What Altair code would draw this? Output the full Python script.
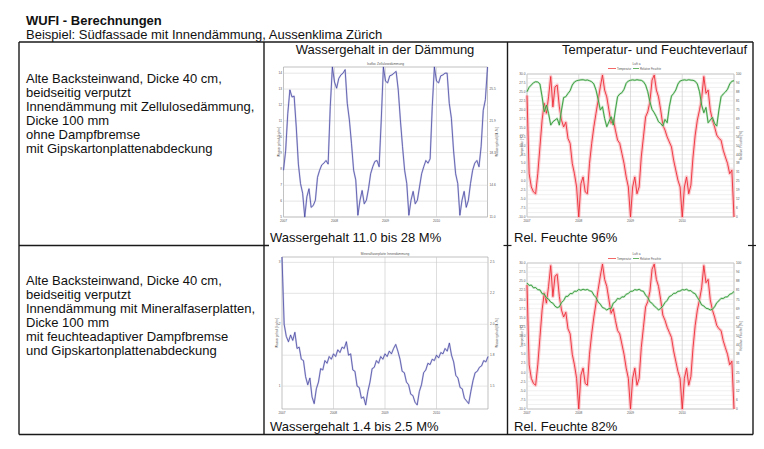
import altair as alt
import pandas as pd

# ---------------- data ----------------
title = "WUFI - Berechnungen"
subtitle = "Beispiel: Südfassade mit Innendämmung, Aussenklima Zürich"
col_heads = ["Wassergehalt in der Dämmung", "Temperatur- und Feuchteverlauf"]
desc_1 = ["Alte Backsteinwand, Dicke 40 cm,", "beidseitig verputzt",
          "Innendämmung mit Zellulosedämmung,", "Dicke 100 mm",
          "ohne Dampfbremse", "mit Gipskartonplattenabdeckung"]
desc_2 = ["Alte Backsteinwand, Dicke 40 cm,", "beidseitig verputzt",
          "Innendämmung mit Mineralfaserplatten,", "Dicke 100 mm",
          "mit feuchteadaptiver Dampfbremse", "und Gipskartonplattenabdeckung"]
captions = ["Wassergehalt 11.0 bis 28 M%", "Rel. Feuchte 96%",
            "Wassergehalt 1.4 bis 2.5 M%", "Rel. Feuchte 82%"]
mini_titles = ["Isofloc Zellulosedämmung", "Mineralfaserplatte Innendämmung", "Luft a"]
legend_items = ["Temperatur", "Relative Feuchte"]
years = ["2007", "2008", "2009", "2010"]
year_months = [0, 12, 24, 36]

# water content, cellulose insulation [M.-%], half-month steps over 4 years
water_cellulose = [16.3, 18.5, 22.7, 25.4, 24.6, 24.7, 21.2, 17.0, 14.8, 13.7,
                   11.0, 13.3, 14.2, 12.1, 12.3, 12.9, 15.5, 16.3, 16.9, 17.1,
                   17.4, 17.0, 23.5, 28.0, 26.3, 25.6, 26.7, 27.1, 27.3, 27.7,
                   23.9, 22.0, 19.3, 16.3, 15.2, 11.2, 12.9, 14.0, 12.5, 12.9,
                   14.2, 15.9, 16.7, 17.3, 17.4, 16.7, 22.0, 28.0, 26.4, 26.2,
                   27.0, 27.1, 27.3, 27.5, 25.4, 22.0, 19.0, 16.3, 14.8, 11.2,
                   12.9, 13.9, 12.5, 12.9, 14.4, 15.9, 16.7, 17.4, 17.1, 17.6,
                   23.5, 28.0, 26.4, 26.2, 27.0, 27.1, 27.3, 27.3, 23.9, 22.2,
                   18.6, 15.9, 14.8, 11.2, 12.9, 13.9, 12.1, 12.9, 14.8, 16.3,
                   17.1, 17.4, 16.7, 19.0, 23.1, 24.3, 28.0]

# water content, mineral fibre board [M.-%]
water_mineral = [2.50, 2.00, 1.91, 1.87, 1.92, 1.88, 1.94, 1.82, 1.83, 1.74,
                 1.73, 1.61, 1.55, 1.60, 1.46, 1.41, 1.52, 1.57, 1.67, 1.66,
                 1.73, 1.71, 1.76, 1.74, 1.78, 1.76, 1.81, 1.79, 1.83, 1.82,
                 1.87, 1.77, 1.78, 1.66, 1.65, 1.54, 1.53, 1.45, 1.46, 1.40,
                 1.50, 1.57, 1.67, 1.68, 1.73, 1.71, 1.76, 1.74, 1.78, 1.76,
                 1.80, 1.78, 1.82, 1.85, 1.80, 1.74, 1.65, 1.64, 1.57, 1.55,
                 1.48, 1.47, 1.42, 1.40, 1.50, 1.55, 1.64, 1.66, 1.71, 1.70,
                 1.74, 1.73, 1.77, 1.75, 1.79, 1.78, 1.82, 1.80, 1.86, 1.77,
                 1.72, 1.62, 1.60, 1.53, 1.52, 1.45, 1.43, 1.41, 1.50, 1.58,
                 1.64, 1.65, 1.68, 1.69, 1.73, 1.72, 1.76]

# temperature [°C]
temperature = [24.0, 2.1, -1.6, -3.0, -3.5, 2.1, 9.6, 17.1, 21.8, 19.0,
               23.6, 29.3, 20.8, 26.4, 26.9, 20.8, 17.1, 15.2, 16.5, 12.0,
               10.6, 5.0, 2.1, -1.6, -10.0, -0.7, 1.2, -3.0, -3.5, 5.0,
               10.6, 15.2, 19.0, 22.7, 26.4, 29.7, 25.5, 23.6, 19.9, 16.2,
               17.5, 14.3, 11.5, 10.6, 7.8, 5.0, 1.2, -1.6, -10.0, -1.6,
               1.2, -3.5, -1.6, 6.8, 12.4, 18.0, 19.4, 22.2, 28.3, 29.7,
               25.5, 23.6, 19.9, 15.7, 14.3, 12.4, 11.0, 9.6, 5.9, 3.1,
               0.3, -1.6, -10.0, -1.6, 1.2, -3.5, -1.1, 6.8, 12.9, 17.1,
               19.9, 23.2, 29.3, 24.6, 25.5, 19.9, 17.1, 15.2, 12.9, 12.0,
               11.5, 8.7, 6.8, 5.0, 2.1, 3.1, -10.0]

# relative humidity, case 1 [%]
rh_case1 = [87.6, 90.7, 92.3, 93.9, 94.6, 94.4, 93.0, 84.1, 73.6, 78.3,
            72.4, 64.3, 66.6, 67.8, 68.9, 64.3, 74.8, 83.6, 84.1, 86.4,
            88.3, 92.3, 94.4, 95.3, 95.6, 95.9, 96.0, 95.6, 95.8, 95.3,
            94.6, 93.0, 88.8, 82.2, 74.8, 77.1, 68.9, 63.1, 66.6, 70.1,
            64.3, 74.8, 84.1, 86.0, 86.9, 89.3, 93.5, 95.1, 95.6, 95.9,
            95.6, 96.0, 95.7, 95.6, 94.6, 92.3, 87.6, 80.6, 75.2, 72.9,
            70.1, 66.6, 65.4, 63.6, 68.2, 65.9, 77.1, 84.6, 86.4, 88.8,
            93.0, 95.1, 95.6, 95.9, 95.6, 96.0, 95.7, 95.6, 94.9, 93.0,
            87.6, 78.3, 72.9, 76.6, 65.9, 67.8, 69.6, 65.4, 63.6, 74.8,
            84.1, 86.0, 87.4, 89.3, 93.0, 94.9, 95.3]

# relative humidity, case 2 [%]
rh_case2 = [86.3, 84.6, 84.9, 83.0, 83.2, 81.7, 81.6, 79.0, 78.7, 76.2,
            75.2, 73.2, 72.5, 70.4, 69.4, 70.0, 72.9, 74.3, 77.1, 77.2,
            79.1, 79.0, 80.7, 80.6, 81.9, 81.3, 82.0, 81.5, 81.9, 81.0,
            80.6, 78.0, 76.4, 73.3, 71.8, 69.5, 68.9, 67.8, 68.8, 68.7,
            72.5, 73.5, 75.7, 75.3, 76.8, 76.7, 78.6, 79.1, 80.6, 80.7,
            81.8, 81.4, 82.0, 81.0, 80.6, 78.0, 76.4, 73.4, 72.4, 70.5,
            69.4, 67.8, 68.9, 70.5, 72.9, 74.4, 77.0, 77.7, 79.2, 79.3,
            80.6, 80.8, 81.8, 81.5, 82.0, 81.0, 81.1, 79.6, 79.0, 76.4,
            74.2, 71.3, 70.6, 69.0, 68.7, 67.8, 68.3, 70.0, 72.8, 74.1,
            75.8, 75.7, 76.7, 76.8, 78.6, 79.1, 80.5]

# axis ticks of the small charts
cell_grid = [11.0, 12.8, 14.6, 16.4, 18.3, 20.1, 21.9, 23.7, 25.5, 27.3]
cell_left_labels = ["5", "6", "7", "8", "9", "10", "11", "12", "13", "14"]
cell_right_labels = ["11.0", "", "14.6", "", "18.3", "", "21.9", "", "25.5", ""]
min_grid = [1.54, 1.77, 2.00, 2.23, 2.46]
min_left_labels = ["1", "", "2", "", "3"]
min_right_labels = ["1.5", "1.8", "2.0", "2.2", "2.5"]
temp_grid = [-10 + 1.25 * k for k in range(33)]
temp_labels = [str(round(v, 1)) if k % 2 == 0 else "" for k, v in enumerate(temp_grid)]
rh_labels = [str(round((v + 10) * 2.5)) if k % 2 == 0 else "" for k, v in enumerate(temp_grid)]

# ---------------- helpers ----------------
FONT = "Liberation Sans"
INK = "#111111"
dummy = pd.DataFrame({"d": [0]})
layers = []


def S(dom, rng):
    return alt.Scale(domain=dom, range=rng, nice=False, zero=False)


def txt(x, y, s, size=13, weight="normal", align="left", color=INK, angle=None):
    kw = dict(text=s, fontSize=size, fontWeight=weight, align=align,
              baseline="middle", font=FONT, color=color)
    if angle is not None:
        kw["angle"] = angle
    return alt.Chart(dummy).mark_text(**kw).encode(x=alt.value(x), y=alt.value(y))


def hline(x0, x1, y, w=1.4, color="#1a1a1a"):
    return alt.Chart(dummy).mark_rule(strokeWidth=w, color=color).encode(
        x=alt.value(x0), x2=alt.value(x1), y=alt.value(y))


def vline(x, y0, y1, w=1.4, color="#1a1a1a"):
    return alt.Chart(dummy).mark_rule(strokeWidth=w, color=color).encode(
        x=alt.value(x), y=alt.value(y0), y2=alt.value(y1))


def frame(x0, x1, yt, yb):
    return alt.Chart(dummy).mark_rect(fill="#ffffff", stroke="#a8a8a8", strokeWidth=0.7).encode(
        x=alt.value(x0), x2=alt.value(x1), y=alt.value(yt), y2=alt.value(yb))


def hgrid(vals, sy, x0, x1, color="#d4d4d4", w=0.6):
    return alt.Chart(pd.DataFrame({"v": vals})).mark_rule(color=color, strokeWidth=w).encode(
        y=alt.Y("v:Q", scale=sy, axis=None), x=alt.value(x0), x2=alt.value(x1))


def vgrid(vals, sx, yt, yb):
    return alt.Chart(pd.DataFrame({"t": vals})).mark_rule(color="#c8c8c8", strokeWidth=0.6).encode(
        x=alt.X("t:Q", scale=sx, axis=None), y=alt.value(yt), y2=alt.value(yb))


def ylabels(vals, labs, sy, x, align):
    return alt.Chart(pd.DataFrame({"v": vals, "l": labs})).mark_text(
        fontSize=3.2, font=FONT, color="#555555", align=align, baseline="middle").encode(
        y=alt.Y("v:Q", scale=sy, axis=None), x=alt.value(x), text="l:N")


def xlabels(sx, y):
    return alt.Chart(pd.DataFrame({"t": year_months, "l": years})).mark_text(
        fontSize=3.2, font=FONT, color="#555555", align="center", baseline="middle").encode(
        x=alt.X("t:Q", scale=sx, axis=None), y=alt.value(y), text="l:N")


def series(vals, sx, sy, color, w, op=1.0):
    n = len(vals)
    df = pd.DataFrame({"t": [48 * i / (n - 1) for i in range(n)], "v": vals})
    return alt.Chart(df).mark_line(color=color, strokeWidth=w, opacity=op, strokeJoin="round").encode(
        x=alt.X("t:Q", scale=sx, axis=None), y=alt.Y("v:Q", scale=sy, axis=None))


# ---------------- page text and table ----------------
layers += [
    txt(18, 13, title, weight="bold"),
    txt(18, 27, subtitle),
    txt(377, 42, col_heads[0], align="center"),
    txt(739, 42, col_heads[1], align="right"),
]
for k, line in enumerate(desc_1):
    layers.append(txt(18, 71 + 14 * k, line))
for k, line in enumerate(desc_2):
    layers.append(txt(18, 273 + 14 * k, line))
layers += [
    txt(262, 230, captions[0]), txt(506, 230, captions[1]),
    txt(262, 419, captions[2]), txt(506, 419, captions[3]),
]
layers += [
    hline(11, 745, 34), hline(11, 745, 426.5), hline(11, 261, 237.5),
    hline(495.5, 503.5, 237.5, w=1.2), hline(740, 749, 237.5, w=1.2),
    vline(11, 34, 426.5), vline(745, 34, 426.5),
    vline(256, 34, 426.5), vline(499.5, 34, 426.5),
]


# ---------------- small water-content charts ----------------
def water_panel(x0, x1, yt, yb, dom, vals, grid, llab, rlab, ttl, ty):
    sx = S([0, 48], [x0, x1])
    sy = S(dom, [yb, yt])
    return [
        frame(x0, x1, yt, yb),
        hgrid(grid, sy, x0, x1),
        vgrid([12, 24, 36], sx, yt, yb),
        ylabels(grid, llab, sy, x0 - 1.5, "right"),
        ylabels(grid, rlab, sy, x1 + 2, "left"),
        xlabels(sx, yb + 4),
        txt((x0 + x1) / 2, ty, ttl, size=3.2, color="#555555", align="center"),
        txt(x0 - 5, (yt + yb) / 2, "Wassergehalt [kg/m³]", size=3.2, color="#555555", align="center", angle=270),
        txt(x1 + 9, (yt + yb) / 2, "Wassergehalt [M.-%]", size=3.2, color="#555555", align="center", angle=270),
        series(vals, sx, sy, "#a8a8d8", 1.8, 0.5),
        series(vals, sx, sy, "#3a3a9c", 0.7),
    ]


layers += water_panel(275.5, 479.5, 59, 209, [11, 28], water_cellulose,
                      cell_grid, cell_left_labels, cell_right_labels, mini_titles[0], 56)
layers += water_panel(274, 480, 249, 401, [1.37, 2.5], water_mineral,
                      min_grid, min_left_labels, min_right_labels, mini_titles[1], 246)


# ---------------- small temperature / humidity charts ----------------
def climate_panel(x0, x1, yt, yb, rh, ty):
    sx = S([0, 48], [x0, x1])
    sy_t = S([-10, 30], [yb, yt])
    sy_r = S([0, 100], [yb, yt])
    ly = ty + 4.5
    return [
        frame(x0, x1, yt, yb),
        hgrid(temp_grid, sy_t, x0, x1, color="#e0e0e0", w=0.5),
        vgrid([12, 24, 36], sx, yt, yb),
        ylabels(temp_grid, temp_labels, sy_t, x0 - 1.5, "right"),
        ylabels(temp_grid, rh_labels, sy_t, x1 + 2, "left"),
        xlabels(sx, yb + 4),
        txt((x0 + x1) / 2 + 6, ty, mini_titles[2], size=3.2, color="#555555", align="center"),
        hline(x0 + 81, x0 + 89, ly, w=0.8, color="#f04040"),
        txt(x0 + 90, ly, legend_items[0], size=2.8, color="#555555"),
        hline(x0 + 106, x0 + 112, ly, w=0.8, color="#40a040"),
        txt(x0 + 113, ly, legend_items[1], size=2.8, color="#555555"),
        txt(x0 - 5, (yt + yb) / 2, "Temperatur [°C]", size=3.2, color="#555555", align="center", angle=270),
        txt(x1 + 7, (yt + yb) / 2, "Relative Feuchte [%]", size=3.2, color="#555555", align="center", angle=270),
        series(temperature, sx, sy_t, "#f8aab0", 3.4, 0.6),
        series(temperature, sx, sy_t, "#ee2a36", 0.9),
        series(rh, sx, sy_r, "#a8d6a8", 2.2, 0.6),
        series(rh, sx, sy_r, "#2f9a35", 0.9),
    ]


layers += climate_panel(519, 726, 66, 209, rh_case1, 56)
layers += climate_panel(519, 726, 255, 401, rh_case2, 246)

chart = alt.layer(*layers).resolve_scale(
    x="independent", y="independent"
).properties(
    width=748, height=433, padding=0, background="#ffffff",
    autosize=alt.AutoSizeParams(type="none")
).configure_view(stroke=None)

chart.save("out.html", embed_options={"renderer": "svg", "actions": False})
